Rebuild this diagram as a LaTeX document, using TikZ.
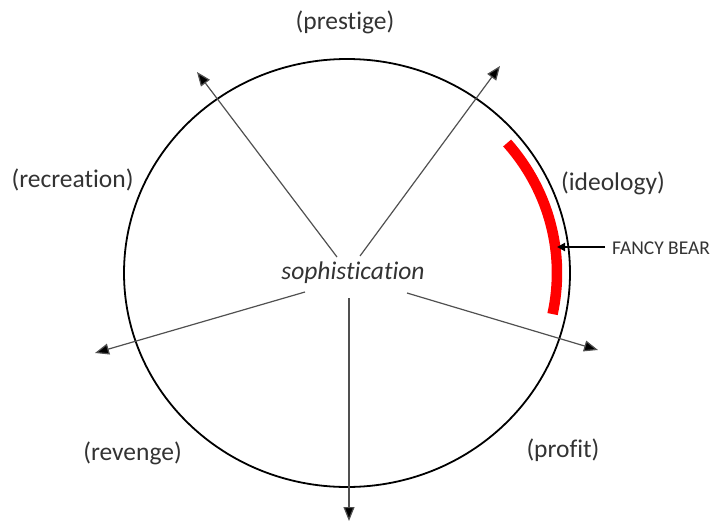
\documentclass[tikz,border=0pt]{standalone}
\usepackage{fontspec}
\setmainfont{Carlito}[Ligatures=NoCommon]
\usetikzlibrary{arrows.meta,calc}
\definecolor{txt}{HTML}{333333}
\definecolor{ln}{HTML}{505050}
\definecolor{fbred}{HTML}{FF0000}
\tikzset{
  lbl/.style={inner sep=0pt, text=txt, font=\fontsize{25.5}{30}\selectfont},
  spoke/.style={draw=ln, line width=1.2pt, -{Triangle[length=14pt,width=11pt,fill=black]}},
}
\begin{document}
\begin{tikzpicture}[x=1pt,y=-1pt]
\useasboundingbox (0,0) rectangle (713,522);
% outer circle
\coordinate (c) at (347,273);
\draw[line width=1.8pt, black] (c) ellipse [x radius=223, y radius=214];
% red arc
\draw[fbred, line width=10.5pt] ($(c)+(-40.3:210 and 201)$) arc[start angle=-40.3, end angle=11.8, x radius=210, y radius=201];
% centre label
\node[lbl, font=\fontsize{25.5}{30}\selectfont\itshape] (soph) at (353,273) {sophistication};
% spoke coordinates
\coordinate (s1) at (337,257); \coordinate (t1) at (197,72);
\coordinate (s2) at (360,256); \coordinate (t2) at (500,66);
\coordinate (s3) at (305,292); \coordinate (t3) at (95,353);
\coordinate (s4) at (349,298); \coordinate (t4) at (349,521);
\coordinate (s5) at (407,293); \coordinate (t5) at (598,350);
\draw[spoke] (s1) -- (t1);
\draw[spoke] (s2) -- (t2);
\draw[spoke] (s3) -- (t3);
\draw[spoke] (s4) -- (t4);
\draw[spoke] (s5) -- (t5);
% labels
\node[lbl] (prestige) at (345,22) {(prestige)};
\node[lbl] (recreation) at (72.5,180) {(recreation)};
\node[lbl] (ideology) at (613,183) {(ideology)};
\node[lbl] (revenge) at (132.5,453) {(revenge)};
\node[lbl] (profit) at (563,450) {(profit)};
% fancy bear
\node[inner sep=0pt, anchor=west, text=txt, font=\fontsize{19.5}{22}\selectfont] (fb) at (612,248) {FANCY BEAR};
\coordinate (fbtip) at (557,247);
\draw[black, line width=2pt, -{Triangle[length=8pt,width=8pt]}] ([xshift=-7pt]fb.west |- fbtip) -- (fbtip);
\end{tikzpicture}
\end{document}
